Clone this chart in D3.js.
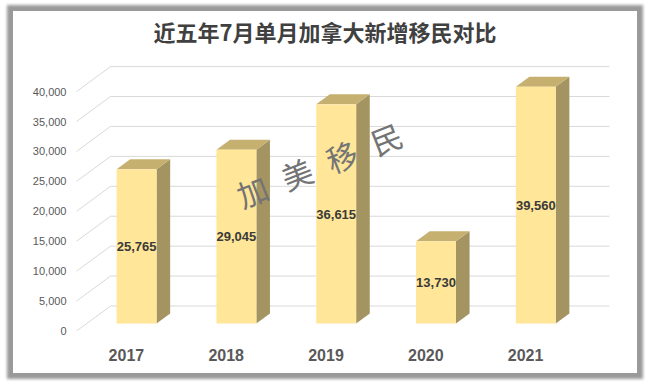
<!DOCTYPE html>
<html>
<head>
<meta charset="utf-8">
<title>近五年7月单月加拿大新增移民对比</title>
<script src="https://cdn.jsdelivr.net/npm/d3@7"></script>
<style>
  body { margin: 0; background: #fff; }
  svg { display: block; }
</style>
</head>
<body>
<div id="chart"></div>
<script>
// data
var years = ["2017", "2018", "2019", "2020", "2021"];
var immigrants = [25765, 29045, 36615, 13730, 39560];
var yTicks = [0, 5000, 10000, 15000, 20000, 25000, 30000, 35000, 40000];
var title = "近五年7月单月加拿大新增移民对比";
var watermark = ["加", "美", "移", "民"];

var W = 650, H = 384;
var svg = d3.select("#chart").append("svg").attr("width", W).attr("height", H);

// frame with grey shadow
var defs = svg.append("defs");
defs.append("filter").attr("id", "blur")
  .attr("x", "-5%").attr("y", "-5%").attr("width", "110%").attr("height", "110%")
  .append("feGaussianBlur").attr("stdDeviation", 1.6);
svg.append("rect").attr("x", 7).attr("y", 5).attr("width", 636).attr("height", 374)
  .attr("fill", "#9a9a9a").attr("filter", "url(#blur)");
svg.append("rect").attr("x", 13).attr("y", 11).attr("width", 624).attr("height", 362)
  .attr("fill", "#fff");

// oblique 3d: front plane scales + a depth vector
var x = d3.scaleBand().domain(years).range([76.5, 575.5]);
var y = d3.scaleLinear().domain([0, 40000]).range([331, 91.6]);
var depth = { dx: 34, dy: -25 };
var f0 = 0.3, f1 = 0.7;               // bar sits between these depth fractions
var barW = x.bandwidth() * 0.4;

var x0 = x.range()[0], x1 = x.range()[1];

// grid: side wall diagonal + back wall line
svg.append("g").selectAll("path").data(yTicks).enter().append("path")
  .attr("d", function(t) {
    var yy = y(t);
    return "M" + x0 + "," + yy +
      "L" + (x0 + depth.dx) + "," + (yy + depth.dy) +
      "L" + (x1 + depth.dx) + "," + (yy + depth.dy);
  })
  .attr("fill", "none").attr("stroke", "#d9d9d9").attr("stroke-width", 1);

// y axis labels
var yAxis = d3.axisLeft(y).tickValues(yTicks).tickSize(0).tickPadding(10)
  .tickFormat(d3.format(","));
var ga = svg.append("g").attr("transform", "translate(" + x0 + ",0)").call(yAxis);
ga.select(".domain").remove();
ga.selectAll("text").attr("font-family", "'Liberation Sans', Arial, sans-serif")
  .attr("font-size", 11).attr("fill", "#595959");

// bars
var ox0 = depth.dx * f0, oy0 = depth.dy * f0;
var ox1 = depth.dx * f1, oy1 = depth.dy * f1;
var data = years.map(function(c, i) { return { year: c, value: immigrants[i] }; });

var bars = svg.append("g").selectAll("g").data(data).enter().append("g");
bars.each(function(d) {
  var g = d3.select(this);
  var xl = x(d.year) + (x.bandwidth() - barW) / 2;
  var xr = xl + barW;
  var yt = y(d.value), yb = y(0);
  // side
  g.append("polygon")
    .attr("points", [[xr + ox0, yt + oy0], [xr + ox1, yt + oy1], [xr + ox1, yb + oy1], [xr + ox0, yb + oy0]].join(" "))
    .attr("fill", "#a49462");
  // top
  g.append("polygon")
    .attr("points", [[xl + ox0, yt + oy0], [xr + ox0, yt + oy0], [xr + ox1, yt + oy1], [xl + ox1, yt + oy1]].join(" "))
    .attr("fill", "#c6b06f");
  // front
  g.append("rect")
    .attr("x", xl + ox0).attr("y", yt + oy0)
    .attr("width", barW).attr("height", yb - yt)
    .attr("fill", "#ffe699");
  // value label
  g.append("text")
    .attr("x", xl + ox0 + barW / 2).attr("y", (yt + yb) / 2 + oy0)
    .attr("dy", "0.36em").attr("text-anchor", "middle")
    .attr("font-family", "'Liberation Sans', Arial, sans-serif")
    .attr("font-weight", "bold").attr("font-size", 13).attr("fill", "#3a3a3a")
    .text(d3.format(",")(d.value));
});

// category labels
svg.append("g").selectAll("text").data(years).enter().append("text")
  .attr("x", function(d) { return x(d) + x.bandwidth() / 2; })
  .attr("y", 361)
  .attr("text-anchor", "middle")
  .attr("font-family", "'Liberation Sans', Arial, sans-serif")
  .attr("font-weight", "bold").attr("font-size", 16).attr("fill", "#595959")
  .text(function(d) { return d; });

// title
svg.append("text").attr("x", 325).attr("y", 41).attr("text-anchor", "middle")
  .attr("font-family", "'Noto Sans CJK SC', sans-serif")
  .attr("font-weight", "bold").attr("font-size", 22).attr("fill", "#404040")
  .text(title);

// watermark
var ang = -21.5, step = 48;
var wx = 253, wy = 193;
svg.append("g").selectAll("text").data(watermark).enter().append("text")
  .attr("transform", function(d, i) {
    var r = ang * Math.PI / 180;
    return "translate(" + (wx + i * step * Math.cos(r)) + "," + (wy + i * step * Math.sin(r)) + ") rotate(" + ang + ")";
  })
  .attr("text-anchor", "middle").attr("dy", "0.36em")
  .attr("font-family", "'Noto Sans CJK SC', sans-serif")
  .attr("font-weight", "normal").attr("font-size", 31).attr("fill", "#747474")
  .text(function(d) { return d; });
</script>
</body>
</html>
